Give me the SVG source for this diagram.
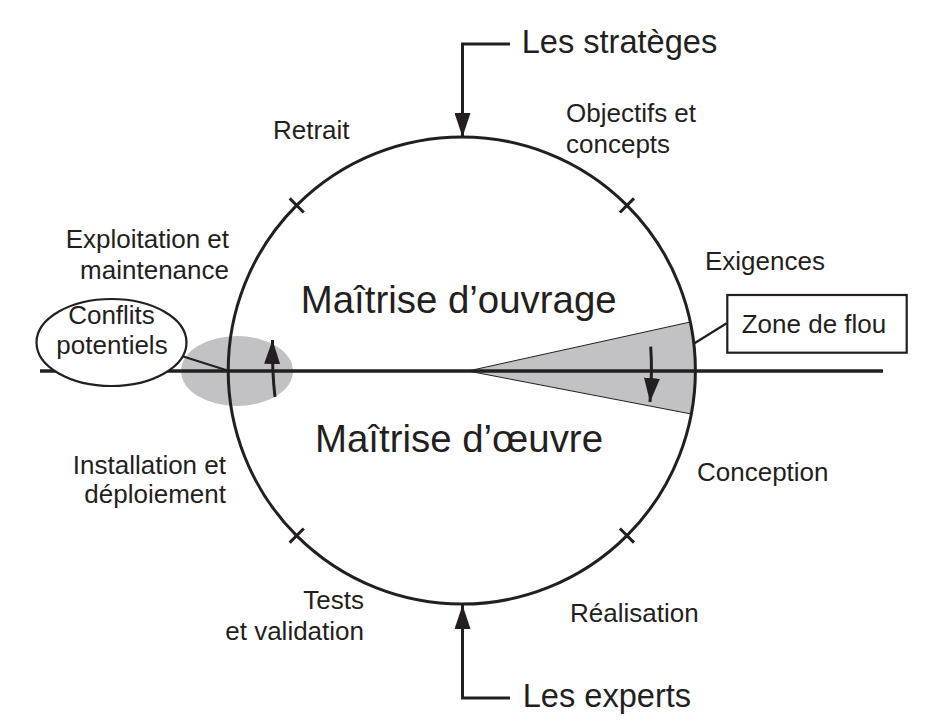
<svg xmlns="http://www.w3.org/2000/svg" width="935" height="728" viewBox="0 0 935 728">
<defs>
<style>
text{font-family:"Liberation Sans",Arial,sans-serif;fill:#231f20}
.lbl{font-size:26px}
.big{font-size:38.4px}
.hd{font-size:32.6px}
.ln{fill:none;stroke:#231f20;stroke-width:3}
.thin{fill:none;stroke:#231f20;stroke-width:2.2}
</style>
<marker id="ah" markerUnits="userSpaceOnUse" markerWidth="24" markerHeight="16" refX="24" refY="8" orient="auto" viewBox="0 0 24 16">
<path d="M0,0 L24,8 L0,16 z" fill="#231f20"/>
</marker>
</defs>
<rect width="935" height="728" fill="#fff"/>
<g id="zones">
<ellipse cx="237" cy="371" rx="56" ry="35" fill="#c2c2c4"/>
<path d="M468,371 L690.3,322 A233.6,233.6 0 0 1 691.3,414 Z" fill="#c2c2c4" stroke="#231f20" stroke-width="1"/>
</g>
<g id="cycle">
<circle cx="461.8" cy="370.5" r="233.6" class="ln"/>
<path class="ln" d="M289.7,198.4 L303.8,212.5 M634,198.4 L619.9,212.5 M289.7,542.6 L303.8,528.5 M634,542.6 L619.9,528.5"/>
</g>
<g id="axis">
<line x1="40" y1="371" x2="883" y2="371" stroke="#231f20" stroke-width="3.5"/>
</g>
<g id="connectors">
<path class="ln" d="M510,44 H462.5 V137" marker-end="url(#ah)"/>
<path class="ln" d="M510,698 H462.5 V605" marker-end="url(#ah)"/>
<path class="ln" d="M275,397 Q272,372 272.5,340" marker-end="url(#ah)"/>
<path class="ln" d="M650.7,346.7 Q652.5,372 650,402" marker-end="url(#ah)"/>
<path class="thin" d="M181.7,356 L229,371"/>
<path class="thin" d="M726.7,323.3 L694.5,343.3"/>
</g>
<g id="strateges"><text class="hd" x="521.7" y="53.3">Les stratèges</text></g>
<g id="experts"><text class="hd" x="522.7" y="707.3">Les experts</text></g>
<g id="moa"><text class="big" x="458.7" y="312.7" text-anchor="middle">Maîtrise d’ouvrage</text></g>
<g id="moe"><text class="big" x="459" y="451.7" text-anchor="middle">Maîtrise d’œuvre</text></g>
<g id="conflits">
<ellipse cx="111.5" cy="342.5" rx="75" ry="43.5" fill="#fff" stroke="#231f20" stroke-width="2.2"/>
<text class="lbl" x="111.5" y="324" text-anchor="middle">Conflits</text>
<text class="lbl" x="112" y="354" text-anchor="middle">potentiels</text>
</g>
<g id="flou">
<rect x="727.3" y="295" width="179.4" height="57.7" fill="#fff" stroke="#231f20" stroke-width="2.2"/>
<text class="lbl" x="741.7" y="333.3">Zone de flou</text>
</g>
<g id="retrait"><text class="lbl" x="273" y="139">Retrait</text></g>
<g id="objectifs"><text class="lbl" x="566" y="121.7">Objectifs et</text><text class="lbl" x="566" y="153">concepts</text></g>
<g id="exigences"><text class="lbl" x="705" y="270">Exigences</text></g>
<g id="conception"><text class="lbl" x="697" y="481">Conception</text></g>
<g id="realisation"><text class="lbl" x="570" y="621.7">Réalisation</text></g>
<g id="tests"><text class="lbl" x="364" y="609" text-anchor="end">Tests</text><text class="lbl" x="364" y="640" text-anchor="end">et validation</text></g>
<g id="installation"><text class="lbl" x="226" y="474" text-anchor="end">Installation et</text><text class="lbl" x="226" y="503" text-anchor="end">déploiement</text></g>
<g id="exploitation"><text class="lbl" x="229" y="248" text-anchor="end">Exploitation et</text><text class="lbl" x="229" y="279" text-anchor="end">maintenance</text></g>
</svg>
